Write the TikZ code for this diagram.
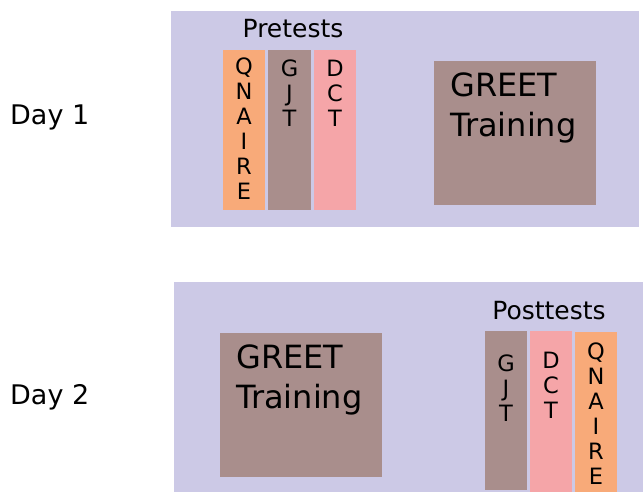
\documentclass[tikz,border=0pt]{standalone}
\usepackage{fontspec}
\setmainfont{DejaVu Sans}
\definecolor{lav}{RGB}{204,201,230}
\definecolor{brn}{RGB}{169,142,140}
\definecolor{org}{RGB}{248,170,121}
\definecolor{pnk}{RGB}{245,165,168}
\tikzset{
  panel/.style={fill=lav, draw=none},
  blk/.style={draw=none},
  daylbl/.style={anchor=base west, inner sep=0pt, font=\fontsize{27}{32}\selectfont},
  grplbl/.style={anchor=base, inner sep=0pt, font=\fontsize{25}{30}\selectfont},
  coltxt/.style={anchor=north, inner sep=0pt, align=center, font=\fontsize{22.5}{25}\selectfont},
  greettxt/.style={anchor=north west, inner sep=0pt, align=left, font=\fontsize{32}{40}\selectfont},
}
\begin{document}
\begin{tikzpicture}[x=1pt,y=-1pt]
\useasboundingbox (0,0) rectangle (643,492);
\fill[white] (0,0) rectangle (643,492);
% Day 1
\node[daylbl] (day1) at (10,125) {Day 1};
\path[panel] (171,11) rectangle (639,227);
\path[blk, fill=org] (223,50) rectangle (265,210);
\path[blk, fill=brn] (268,50) rectangle (311,210);
\path[blk, fill=pnk] (314,50) rectangle (356,210);
\path[blk, fill=brn] (434,61) rectangle (596,205);
\node[grplbl] (pre) at (293,38) {Pretests};
\node[coltxt] (q1) at (244,58) {Q\\N\\A\\I\\R\\E};
\node[coltxt] (g1) at (289.5,60) {G\\J\\T};
\node[coltxt] (d1) at (335,60) {D\\C\\T};
\node[greettxt] (gr1) at (450,73) {GREET\\Training};
% Day 2
\node[daylbl] (day2) at (10,404) {Day 2};
\path[panel] (174,282) rectangle (643,492);
\path[blk, fill=brn] (220,333) rectangle (382,477);
\path[blk, fill=brn] (485,331) rectangle (527,490);
\path[blk, fill=pnk] (530,331) rectangle (572,492);
\path[blk, fill=org] (575,332) rectangle (617,492);
\node[grplbl] (post) at (549,319) {Posttests};
\node[coltxt] (g2) at (506,355) {G\\J\\T};
\node[coltxt] (d2) at (551,352) {D\\C\\T};
\node[coltxt] (q2) at (596,343) {Q\\N\\A\\I\\R\\E};
\node[greettxt] (gr2) at (236,345) {GREET\\Training};
\end{tikzpicture}
\end{document}
